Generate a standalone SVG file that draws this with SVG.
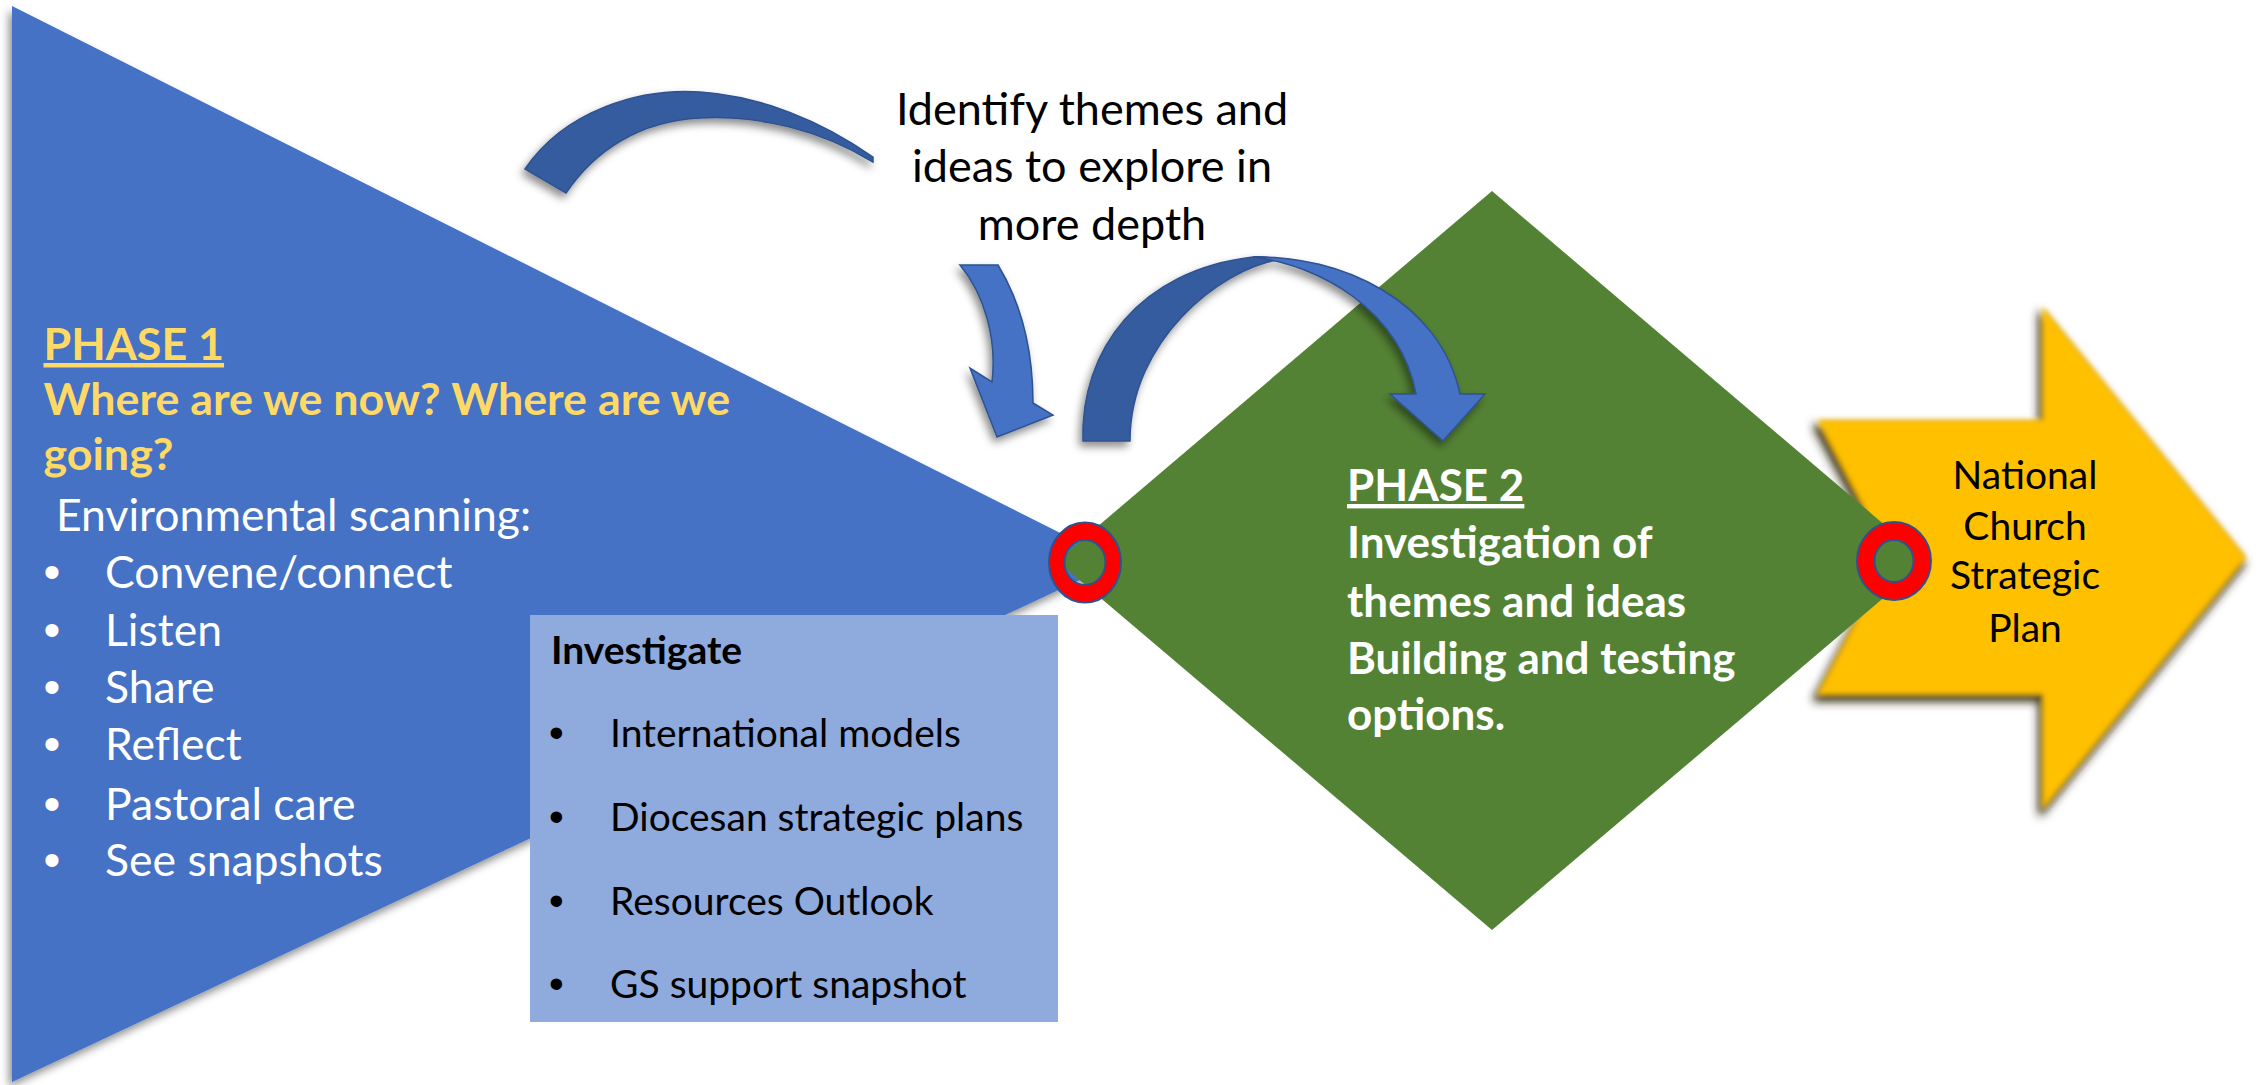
<svg xmlns="http://www.w3.org/2000/svg" width="2261" height="1085" viewBox="0 0 2261 1085">
<defs>
<style>
text{font-family:Lato,"Open Sans","Liberation Sans",sans-serif}
.p1h{font-size:44.8px;font-weight:bold;fill:#FFD966}
.p1{font-size:44.5px;fill:#FFFFFF}
.bx{font-size:39px;fill:#000000}
.bxb{font-size:39px;font-weight:bold;fill:#000000}
.p2{font-size:44px;font-weight:bold;fill:#FFFFFF}
.idt{font-size:45px;fill:#000000}
.npl{font-size:39px;fill:#000000}
.bw{font-family:"Liberation Sans",Arial,sans-serif;font-size:48px;fill:#FFFFFF}
.bk{font-family:"Liberation Sans",Arial,sans-serif;font-size:42px;fill:#000000}
.back{fill:#345C9E;stroke:#2F528F;stroke-width:1.5}
.front{fill:#4472C4;stroke:#2F528F;stroke-width:1.5}
.ring{fill:#FF0000;stroke:#2F528F;stroke-width:2;fill-rule:evenodd}
</style>
<filter id="sh" x="-10%" y="-10%" width="120%" height="130%">
<feDropShadow dx="-3" dy="5" stdDeviation="4" flood-color="#000" flood-opacity="0.45"/>
</filter>
<filter id="soft" x="-10%" y="-10%" width="120%" height="130%">
<feMorphology in="SourceAlpha" operator="dilate" radius="2" result="d"/>
<feGaussianBlur in="d" stdDeviation="5" result="b"/>
<feOffset in="b" dx="-3" dy="6" result="o"/>
<feFlood flood-color="#2a2200" flood-opacity="0.9"/>
<feComposite in2="o" operator="in" result="shadow"/>
<feGaussianBlur in="SourceGraphic" stdDeviation="2.5" result="sg"/>
<feMerge><feMergeNode in="shadow"/><feMergeNode in="sg"/></feMerge>
</filter>
</defs>
<rect width="2261" height="1085" fill="#FFFFFF"/>

<g id="node-phase1">
<polygon points="12,6 1118,562 12,1082" fill="#4472C4" filter="url(#sh)"/>
<text x="43.5" y="360" class="p1h"><tspan text-decoration="underline">PHASE 1</tspan></text>
<text x="43.5" y="415" class="p1h">Where are we now? Where are we</text>
<text x="43.5" y="470" class="p1h">going?</text>
<text x="56" y="531" class="p1">Environmental scanning:</text>
<text x="43.5" y="588" class="bw">•</text><text x="105" y="588" class="p1">Convene/connect</text>
<text x="43.5" y="646" class="bw">•</text><text x="105" y="646" class="p1">Listen</text>
<text x="43.5" y="703" class="bw">•</text><text x="105" y="703" class="p1">Share</text>
<text x="43.5" y="760" class="bw">•</text><text x="105" y="760" class="p1">Reflect</text>
<text x="43.5" y="820" class="bw">•</text><text x="105" y="820" class="p1">Pastoral care</text>
<text x="43.5" y="876" class="bw">•</text><text x="105" y="876" class="p1">See snapshots</text>
</g>

<g id="node-investigate">
<rect x="530" y="615" width="528" height="407" fill="#8FAADC"/>
<text x="551" y="664" class="bxb">Investigate</text>
<text x="549" y="747" class="bk">•</text><text x="610" y="747" class="bx">International models</text>
<text x="549" y="831" class="bk">•</text><text x="610" y="831" class="bx">Diocesan strategic plans</text>
<text x="549" y="915" class="bk">•</text><text x="610" y="915" class="bx">Resources Outlook</text>
<text x="549" y="998" class="bk">•</text><text x="610" y="998" class="bx">GS support snapshot</text>
</g>

<g id="node-plan">
<polygon points="1818,420 2043,420 2043,307 2246,557 2043,808 2043,694 1818,694 1890,557" fill="#FFC000" filter="url(#soft)"/>
<text x="2025" y="489" class="npl" text-anchor="middle">National</text>
<text x="2025" y="540" class="npl" text-anchor="middle">Church</text>
<text x="2025" y="589" class="npl" text-anchor="middle">Strategic</text>
<text x="2025" y="642" class="npl" text-anchor="middle">Plan</text>
</g>

<g id="node-phase2">
<polygon points="1492,191 1927,561 1492,930 1057,561" fill="#548235"/>
<text x="1347" y="501" class="p2"><tspan text-decoration="underline">PHASE 2</tspan></text>
<text x="1347" y="558" class="p2">Investigation of</text>
<text x="1347" y="617" class="p2">themes and ideas</text>
<text x="1347" y="674" class="p2">Building and testing</text>
<text x="1347" y="730" class="p2">options.</text>
</g>

<g id="node-identify">
<text x="1092" y="125" class="idt" text-anchor="middle">Identify themes and</text>
<text x="1092" y="182" class="idt" text-anchor="middle">ideas to explore in</text>
<text x="1092" y="240" class="idt" text-anchor="middle">more depth</text>
</g>

<g id="connectors">
<g id="arrow-1" filter="url(#sh)">
<path class="back" d="M525,169 C565,110 640,88 700,92 C760,96 820,120 873,157 L873,162 C820,130 760,115 700,118 C640,121 595,150 566,193 Z"/>
<path class="front" d="M960,265 L998,265 C1015,293 1033,335 1033,403 L1053,415 L997,437 L970,368 L992,382 C997,340 985,295 960,265 Z"/>
</g>
<g id="arrow-2" filter="url(#sh)">
<path class="back" d="M1083,441 C1080,350 1140,270 1253,257 Q1268,256 1277,260 C1220,270 1130,340 1130,441 Z"/>
<path class="front" d="M1253,257 C1340,255 1440,300 1460,394 L1485,394 L1443,441 L1390,394 L1416,394 C1400,310 1320,265 1253,257 Z"/>
</g>
</g>

<g id="node-ring-1">
<path class="ring" d="M1049,562.5 a36,40 0 1,0 72,0 a36,40 0 1,0 -72,0 Z M1064.5,562.5 a20.5,22.5 0 1,0 41,0 a20.5,22.5 0 1,0 -41,0 Z"/>
</g>
<g id="node-ring-2">
<path class="ring" d="M1857,561 a37,39 0 1,0 74,0 a37,39 0 1,0 -74,0 Z M1874.5,561 a19.5,21 0 1,0 39,0 a19.5,21 0 1,0 -39,0 Z"/>
</g>
</svg>
